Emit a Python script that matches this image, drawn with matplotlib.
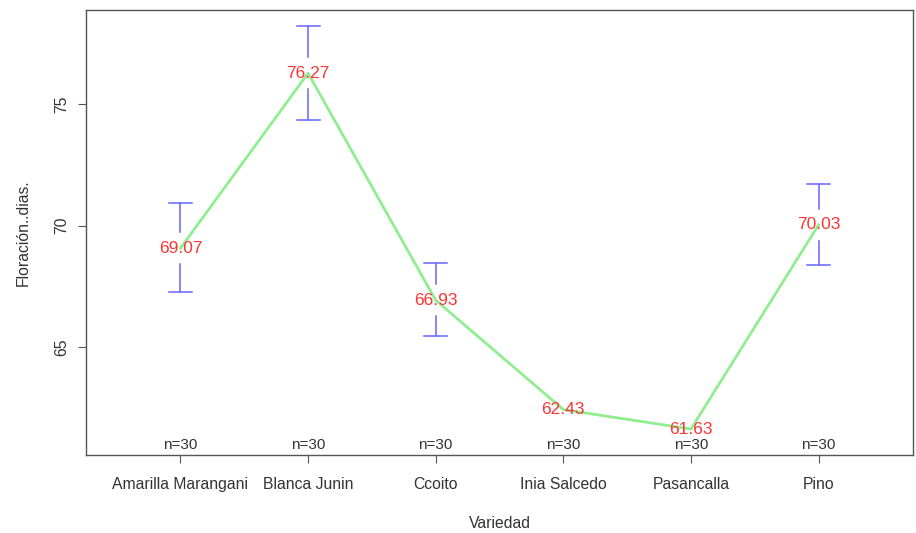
import numpy as np
import matplotlib.pyplot as plt

plt.rcParams['font.family'] = ['Liberation Sans', 'DejaVu Sans']

variedades = ["Amarilla Marangani", "Blanca Junin", "Ccoito",
              "Inia Salcedo", "Pasancalla", "Pino"]
medias = [69.07, 76.27, 66.93, 62.43, 61.63, 70.03]
ic_sup = [70.93, 78.19, 68.48, 62.85, 62.02, 71.72]
ic_inf = [67.27, 74.35, 65.45, 62.01, 61.24, 68.39]
n_obs = [30, 30, 30, 30, 30, 30]

x = np.arange(1, len(variedades) + 1)

fig = plt.figure(figsize=(9.16, 5.33), dpi=100)
ax = fig.add_axes([86 / 916, 1 - 455 / 533, (913 - 86) / 916, (455 - 10) / 533])

# limits like R: data range padded by 4 %
lo, hi = min(ic_inf), max(ic_sup)
pad = 0.04 * (hi - lo)
ax.set_ylim(lo - pad, hi + pad)
ax.set_xlim(0.5 - 0.24, len(x) + 0.5 + 0.24)

ax.plot(x, medias, color='#90EE90', lw=2.0, zorder=2)

# CI bars with a gap around the mean label (not drawn when shorter than the gap)
gap = 0.65
for xi, m, up, dn in zip(x, medias, ic_sup, ic_inf):
    if up > m + gap:
        ax.plot([xi, xi], [m + gap, up], color='#6666ff', lw=1.1, zorder=1)
        ax.plot([xi - 0.09, xi + 0.09], [up, up], color='#6666ff', lw=1.1, zorder=1)
    if dn < m - gap:
        ax.plot([xi, xi], [m - gap, dn], color='#6666ff', lw=1.1, zorder=1)
        ax.plot([xi - 0.09, xi + 0.09], [dn, dn], color='#6666ff', lw=1.1, zorder=1)
    ax.text(xi, m, f"{m:.2f}", color='#ff3333', fontsize=12.5,
            ha='center', va='center', zorder=3)

y0 = ax.get_ylim()[0]
for xi, n in zip(x, n_obs):
    ax.text(xi, y0 + 0.12, f"n={n}", color='#333333', fontsize=11,
            ha='center', va='bottom')

ax.set_xticks(x)
ax.set_xticklabels(variedades, fontsize=11.3, color='#333333')
ax.set_yticks([65, 70, 75])
ax.set_yticklabels(['65', '70', '75'], rotation=90, va='center',
                   fontsize=11.3, color='#333333')
ax.tick_params(axis='x', length=6, width=0.8, color='#555555', pad=10)
ax.tick_params(axis='y', length=6, width=0.8, color='#555555', pad=6)

for s in ax.spines.values():
    s.set_color('#555555')
    s.set_linewidth(1.0)

ax.set_xlabel("Variedad", fontsize=11.3, color='#333333', labelpad=17)
ax.set_ylabel("Floración..dias.", fontsize=11.3, color='#333333', labelpad=17)

fig.savefig("out.png", dpi=100)
